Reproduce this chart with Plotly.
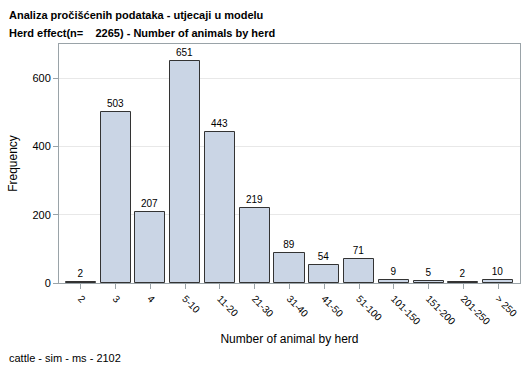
import plotly.graph_objects as go

categories = ["2", "3", "4", "5-10", "11-20", "21-30", "31-40", "41-50", "51-100",
              "101-150", "151-200", "201-250", "> 250"]
counts = [2, 503, 207, 651, 443, 219, 89, 54, 71, 9, 5, 2, 10]
y_ticks = [0, 200, 400, 600]

FONT = "Arial, Liberation Sans, sans-serif"

fig = go.Figure(go.Bar(
    x=categories, y=counts,
    width=0.863,
    marker=dict(color="#CAD5E5", line=dict(color="#333333", width=1)),
    text=[str(c) for c in counts],
    textposition="outside",
    textfont=dict(family=FONT, size=10, color="#000000"),
    cliponaxis=False,
    hoverinfo="skip",
))

fig.update_layout(
    width=529, height=378,
    margin=dict(l=59, r=9, t=44, b=95, autoexpand=False),
    paper_bgcolor="white", plot_bgcolor="white",
    font=dict(family=FONT, size=11, color="#000000"),
    showlegend=False,
    bargap=0,
    xaxis=dict(
        range=[-0.625, 12.625],
        automargin=False,
        tickangle=45,
        ticks="outside", ticklen=5, tickcolor="#9AA3A8",
        tickfont=dict(family=FONT, size=10),
        showline=True, linecolor="#9AA3A8", linewidth=1, mirror=True,
        showgrid=False,
        title=dict(text="Number of animal by herd", font=dict(family=FONT, size=12), standoff=8),
    ),
    yaxis=dict(
        range=[0, 701],
        automargin=False,
        tickvals=y_ticks,
        ticks="outside", ticklen=5, tickcolor="#9AA3A8",
        tickfont=dict(family=FONT, size=11),
        showline=True, linecolor="#9AA3A8", linewidth=1, mirror=True,
        showgrid=True, gridcolor="#E8E8E8", gridwidth=1,
        zeroline=False,
        title=dict(text="Frequency", font=dict(family=FONT, size=12), standoff=12),
    ),
    annotations=[
        dict(text="<b>Analiza pročišćenih podataka - utjecaji u modelu</b>",
             xref="paper", yref="paper", x=-52/461, y=1 + 29/239, xanchor="left", yanchor="middle",
             showarrow=False, font=dict(family=FONT, size=11)),
        dict(text="<b>Herd effect(n=\u00a0\u00a0\u00a0\u00a02265) - Number of animals by herd</b>",
             xref="paper", yref="paper", x=-52/461, y=1 + 11/239, xanchor="left", yanchor="middle",
             showarrow=False, font=dict(family=FONT, size=11)),
        dict(text="cattle - sim - ms - 2102",
             xref="paper", yref="paper", x=-52/461, y=-75/239, xanchor="left", yanchor="middle",
             showarrow=False, font=dict(family=FONT, size=11)),
    ],
)

fig.write_html("out.html", config={"displayModeBar": False},
               post_script="document.body.style.margin='0';")
